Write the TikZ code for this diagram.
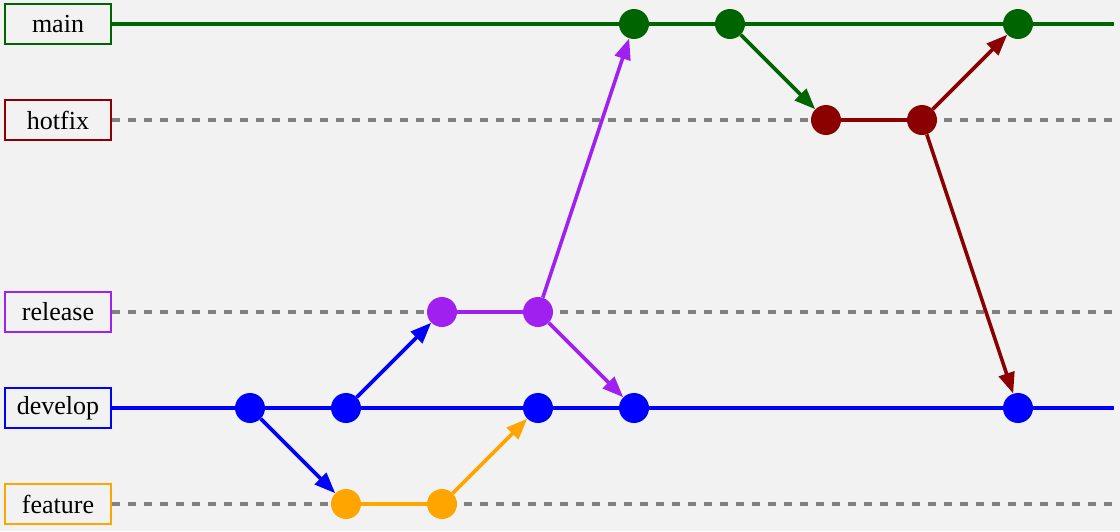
\documentclass[tikz,border=0pt]{standalone}
\usepackage{fontspec}
\setmainfont{Liberation Serif}
\usetikzlibrary{arrows.meta}

\definecolor{bgcol}{HTML}{F2F2F2}
\definecolor{maincol}{HTML}{006400}
\definecolor{hotfixcol}{HTML}{8B0000}
\definecolor{releasecol}{HTML}{A020F0}
\definecolor{developcol}{HTML}{0000FF}
\definecolor{featurecol}{HTML}{FFA500}

\tikzset{
  lanebox/.style={draw=#1, line width=2.8pt, fill=bgcol, minimum width=106pt,
    minimum height=40pt, inner sep=0pt, font=\fontsize{26}{30}\selectfont},
  commit/.style={circle, fill=#1, minimum size=30pt, inner sep=0pt},
  lane/.style={draw=#1, line width=3.6pt},
  idle/.style={draw=gray, line width=3.6pt, dash pattern=on 8pt off 8pt},
  merge/.style={draw=#1, line width=3.6pt, -{Triangle[length=21pt,width=16pt]}},
}

\begin{document}
\begin{tikzpicture}[x=96pt,y=-96pt]
    \useasboundingbox[fill=bgcol] (-58pt,24pt) rectangle (1062pt,-507pt);

    % branch labels
    \node[lanebox=maincol] (main) at (0,0) {main};
    \node[lanebox=hotfixcol] (hotfix) at (0,1) {hotfix};
    \node[lanebox=releasecol] (release) at (0,3) {release};
    \node[lanebox=developcol] (develop) at (0,4) {develop};
    \node[lanebox=featurecol] (feature) at (0,5) {feature};

    % lanes
    \coordinate (main-end) at (11,0);
    \coordinate (hotfix-end) at (11,1);
    \coordinate (release-end) at (11,3);
    \coordinate (develop-end) at (11,4);
    \coordinate (feature-end) at (11,5);
    \draw[lane=maincol] (main) -- (main-end);
    \draw[idle] (hotfix) -- (hotfix-end);
    \draw[idle] (release) -- (release-end);
    \draw[lane=developcol] (develop) -- (develop-end);
    \draw[idle] (feature) -- (feature-end);

    % commits
    \node[commit=developcol] (d1) at (2,4) {};
    \node[commit=developcol] (d2) at (3,4) {};
    \node[commit=developcol] (d3) at (5,4) {};
    \node[commit=developcol] (d4) at (6,4) {};
    \node[commit=developcol] (d5) at (10,4) {};

    \node[commit=featurecol] (f1) at (3,5) {};
    \node[commit=featurecol] (f2) at (4,5) {};

    \node[commit=releasecol] (r1) at (4,3) {};
    \node[commit=releasecol] (r2) at (5,3) {};

    \node[commit=maincol] (m1) at (6,0) {};
    \node[commit=maincol] (m2) at (7,0) {};
    \node[commit=maincol] (m3) at (10,0) {};

    \node[commit=hotfixcol] (h1) at (8,1) {};
    \node[commit=hotfixcol] (h2) at (9,1) {};

    % work on short-lived branches
    \draw[lane=featurecol] (f1) -- (f2);
    \draw[lane=releasecol] (r1) -- (r2);
    \draw[lane=hotfixcol] (h1) -- (h2);

    % branch offs and merges
    \draw[merge=developcol] (d1) -- (f1);
    \draw[merge=featurecol] (f2) -- (d3);
    \draw[merge=developcol] (d2) -- (r1);
    \draw[merge=releasecol] (r2) -- (m1);
    \draw[merge=releasecol] (r2) -- (d4);
    \draw[merge=maincol] (m2) -- (h1);
    \draw[merge=hotfixcol] (h2) -- (m3);
    \draw[merge=hotfixcol] (h2) -- (d5);
\end{tikzpicture}
\end{document}
